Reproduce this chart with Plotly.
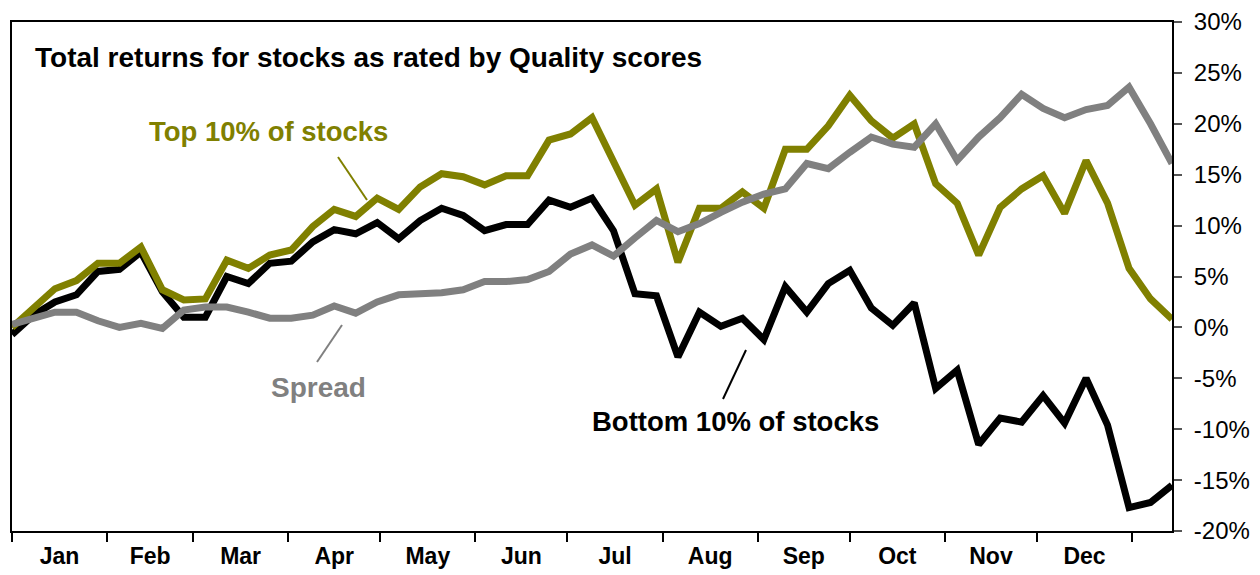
import pandas as pd
import plotly.graph_objects as go

# ---------------- data (weekly total returns, %) ----------------
start_date = "2010-01-01"
n_weeks = 55

top_10 = [0.0, 2.0, 3.8, 4.6, 6.3, 6.3, 7.9, 3.7, 2.7, 2.8,
          6.6, 5.8, 7.1, 7.6, 9.9, 11.6, 10.9, 12.7, 11.6, 13.8,
          15.1, 14.8, 14.0, 14.9, 14.9, 18.4, 19.0, 20.6, 16.3, 12.0,
          13.6, 6.4, 11.7, 11.7, 13.3, 11.7, 17.5, 17.5, 19.8, 22.8,
          20.3, 18.6, 20.0, 14.1, 12.2, 7.1, 11.8, 13.6, 14.9, 11.2,
          16.4, 12.2, 5.8, 2.8, 0.8]

bottom_10 = [-0.7, 1.2, 2.5, 3.2, 5.5, 5.7, 7.4, 3.5, 1.0, 1.0,
             5.0, 4.3, 6.3, 6.5, 8.4, 9.6, 9.2, 10.3, 8.7, 10.5,
             11.7, 11.0, 9.5, 10.1, 10.1, 12.5, 11.8, 12.7, 9.5, 3.3,
             3.1, -2.9, 1.5, 0.1, 0.9, -1.2, 4.0, 1.5, 4.3, 5.6,
             1.9, 0.2, 2.4, -6.0, -4.2, -11.5, -8.9, -9.3, -6.7, -9.4,
             -5.0, -9.6, -17.7, -17.2, -15.5]

spread = [0.3, 0.9, 1.5, 1.5, 0.65, 0.0, 0.4, -0.1, 1.7, 2.0,
          2.0, 1.5, 0.9, 0.9, 1.2, 2.1, 1.4, 2.5, 3.2, 3.3,
          3.4, 3.7, 4.5, 4.5, 4.7, 5.5, 7.2, 8.1, 7.0, 8.8,
          10.5, 9.4, 10.2, 11.3, 12.3, 13.1, 13.6, 16.1, 15.6, 17.2,
          18.7, 18.0, 17.7, 20.0, 16.4, 18.7, 20.6, 22.9, 21.5, 20.6,
          21.4, 21.8, 23.6, 20.0, 16.1]

month_labels = ["Jan", "Feb", "Mar", "Apr", "May", "Jun",
                "Jul", "Aug", "Sep", "Oct", "Nov", "Dec"]

y_ticks = [-20, -15, -10, -5, 0, 5, 10, 15, 20, 25, 30]

# ---------------- derived ----------------
dates = pd.date_range(start_date, periods=n_weeks, freq="7D")
month_starts = pd.date_range(start_date, periods=13, freq="MS")
month_mids = [month_starts[i] + (month_starts[i + 1] - month_starts[i]) / 2
              for i in range(12)]

OLIVE = "#808000"
GRAY = "#808080"
FONT = "Liberation Sans, Arial, sans-serif"

fig = go.Figure()
fig.add_trace(go.Scatter(x=dates, y=bottom_10, mode="lines",
                         line=dict(color="black", width=7), name="Bottom 10% of stocks"))
fig.add_trace(go.Scatter(x=dates, y=top_10, mode="lines",
                         line=dict(color=OLIVE, width=7), name="Top 10% of stocks"))
fig.add_trace(go.Scatter(x=dates, y=spread, mode="lines",
                         line=dict(color=GRAY, width=7), name="Spread"))

# The page body has an 8px default margin, so the figure is drawn 8px in.
OFF = 8
FIG_W, FIG_H = 1260 - OFF, 575 - OFF
# plot area in window px: x 12..1172, y 22..531
L, R, T, B = 12, 1172, 22, 531
W, H = R - L, B - T


def px(x):
    return (x - L) / W


def py(y):
    return (B - y) / H


annotations = [
    dict(text="<b>Total returns for stocks as rated by Quality scores</b>",
         x=px(33), y=py(57), xanchor="left", yanchor="middle",
         font=dict(size=28, color="black", family=FONT)),
    dict(text="<b>Top 10% of stocks</b>",
         x=px(268), y=py(131), xanchor="center", yanchor="middle",
         font=dict(size=27.5, color=OLIVE, family=FONT)),
    dict(text="<b>Spread</b>",
         x=px(318), y=py(387), xanchor="center", yanchor="middle",
         font=dict(size=28, color=GRAY, family=FONT)),
    dict(text="<b>Bottom 10% of stocks</b>",
         x=px(735), y=py(421), xanchor="center", yanchor="middle",
         font=dict(size=27.5, color="black", family=FONT)),
]
for a in annotations:
    a.update(xref="paper", yref="paper", showarrow=False)

shapes = [
    dict(type="line", x0=px(338), y0=py(157), x1=px(367), y1=py(200),
         line=dict(color=OLIVE, width=2)),
    dict(type="line", x0=px(317), y0=py(362), x1=px(342), y1=py(325),
         line=dict(color=GRAY, width=2)),
    dict(type="line", x0=px(723), y0=py(399), x1=px(746), y1=py(350),
         line=dict(color="black", width=2)),
]
for s in shapes:
    s.update(xref="paper", yref="paper")

fig.update_layout(
    width=FIG_W, height=FIG_H,
    margin=dict(l=L - OFF, r=FIG_W - (R - OFF), t=T - OFF, b=FIG_H - (B - OFF),
                autoexpand=False),
    paper_bgcolor="white", plot_bgcolor="white",
    showlegend=False,
    annotations=annotations,
    shapes=shapes,
    xaxis=dict(
        type="date",
        automargin=False,
        range=[dates[0], dates[-1]],
        showgrid=False, zeroline=False,
        showline=True, linecolor="black", linewidth=2, mirror=True,
        tickvals=month_mids, ticktext=month_labels,
        ticks="", ticklen=0,
        ticklabelstandoff=3,
        minor=dict(dtick="M1", tick0=start_date, ticks="outside",
                   ticklen=9, tickwidth=1.5, tickcolor="black", showgrid=False),
        tickfont=dict(size=23, color="black", family=FONT, weight="bold"),
    ),
    yaxis=dict(
        side="right",
        automargin=False,
        range=[-20, 30],
        tickvals=y_ticks,
        ticktext=[f"{v}%" for v in y_ticks],
        showgrid=False, zeroline=False,
        showline=True, linecolor="black", linewidth=2, mirror=True,
        ticks="outside", ticklen=8, tickwidth=1.5, tickcolor="#555555",
        ticklabelstandoff=7,
        tickfont=dict(size=24, color="black", family=FONT),
    ),
)

fig.write_html("out.html")
